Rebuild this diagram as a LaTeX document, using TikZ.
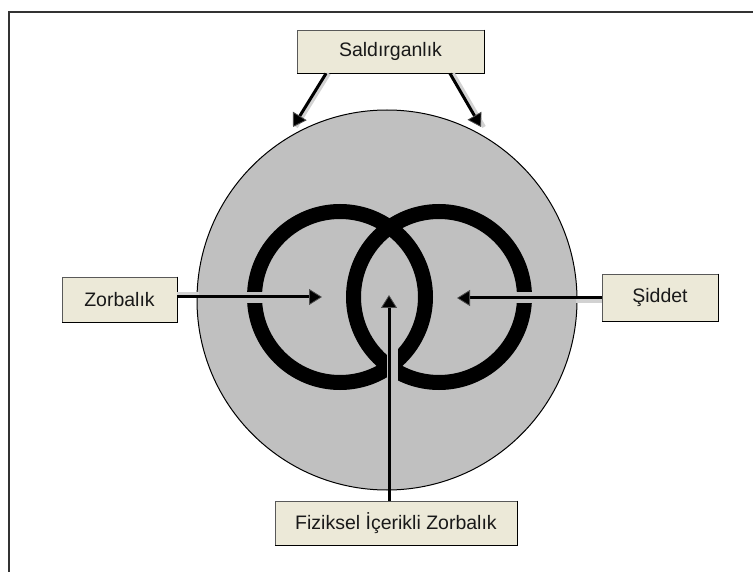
\documentclass[tikz,border=0pt]{standalone}
\usepackage{fontspec}
\setmainfont{Liberation Sans}
\usetikzlibrary{arrows.meta}
\definecolor{boxfill}{HTML}{ECE9D8}
\definecolor{discfill}{HTML}{C0C0C0}
\tikzset{
  lbox/.style={fill=boxfill, draw=gray!70!black, line width=0.8pt, inner sep=0pt,
    font=\fontsize{19.5}{22}\selectfont, text=black!90},
  ring/.style={draw=black, line width=15pt},
  under/.style={draw=discfill, line width=11pt},
  shade/.style={draw=gray!35, line width=4pt},
  conn/.style={draw=black, line width=3pt,
    -{Triangle[length=13pt,width=16pt,line width=0.8pt,fill=black,color=gray!60!black]}}
}
\begin{document}
\begin{tikzpicture}[x=1pt,y=-1pt]
\useasboundingbox (0,0) rectangle (753,572);
% frame
\draw[line width=2pt, black!80] (9,572) -- (9,12) -- (753,12);
% disc
\fill[discfill] (387,300) circle (190);
\draw[black, line width=1pt] (387,300) circle (190);
% rings
\draw[ring] (340,297) circle (85.5);
\draw[ring] (439,297) circle (85.5);
% boxes
\node[lbox, minimum width=187pt, minimum height=43pt] (sal) at (390.5,51.5) {Saldırganlık};
\node[lbox, minimum width=115pt, minimum height=45pt] (zor) at (119.5,299.5) {Zorbalık};
\node[lbox, minimum width=116pt, minimum height=47pt] (sid) at (660,297.5) {Şiddet};
\node[lbox, minimum width=242pt, minimum height=44pt] (fiz) at (396,523) {Fiziksel İçerikli Zorbalık};
% box shadows (dark right/bottom edges)
\foreach \b in {sal,zor,sid,fiz}{
  \draw[black, line width=1.6pt] (\b.north east) -- (\b.south east) -- (\b.south west);
}
% arrow targets
\coordinate (tz) at (322,297);
\coordinate (ts) at (457,298);
\coordinate (tf) at (389,295);
\coordinate (tl) at (293,127);
\coordinate (tr) at (481,127);
\coordinate (sl) at (326,73.5);
\coordinate (sr) at (450,73.5);
% underlays inside the disc (gaps in rings)
\draw[under] ([yshift=-1pt]200,297) -- ([xshift=-8pt,yshift=-1pt]tz);
\draw[under] (574,298) -- ([xshift=8pt]ts);
\draw[under] ([xshift=3pt]389,488) -- ([xshift=3pt,yshift=8pt]tf);
% light shading on the outside portion of connectors
\draw[shade] ([yshift=3pt]zor.east |- tz) -- ([yshift=3pt]199,297);
\draw[shade] ([yshift=-3pt]sid.west |- ts) -- ([yshift=-3pt]576,298);
\draw[shade] ([xshift=3pt]sl) -- ([xshift=3pt]tl);
\draw[shade] ([xshift=3pt]sr) -- ([xshift=3pt]tr);
% connectors
\draw[conn] (zor.east |- tz) -- (tz);
\draw[conn] (sid.west |- ts) -- (ts);
\draw[conn] (fiz.north -| tf) -- (tf);
\draw[conn] (sl) -- (tl);
\draw[conn] (sr) -- (tr);
\end{tikzpicture}
\end{document}
